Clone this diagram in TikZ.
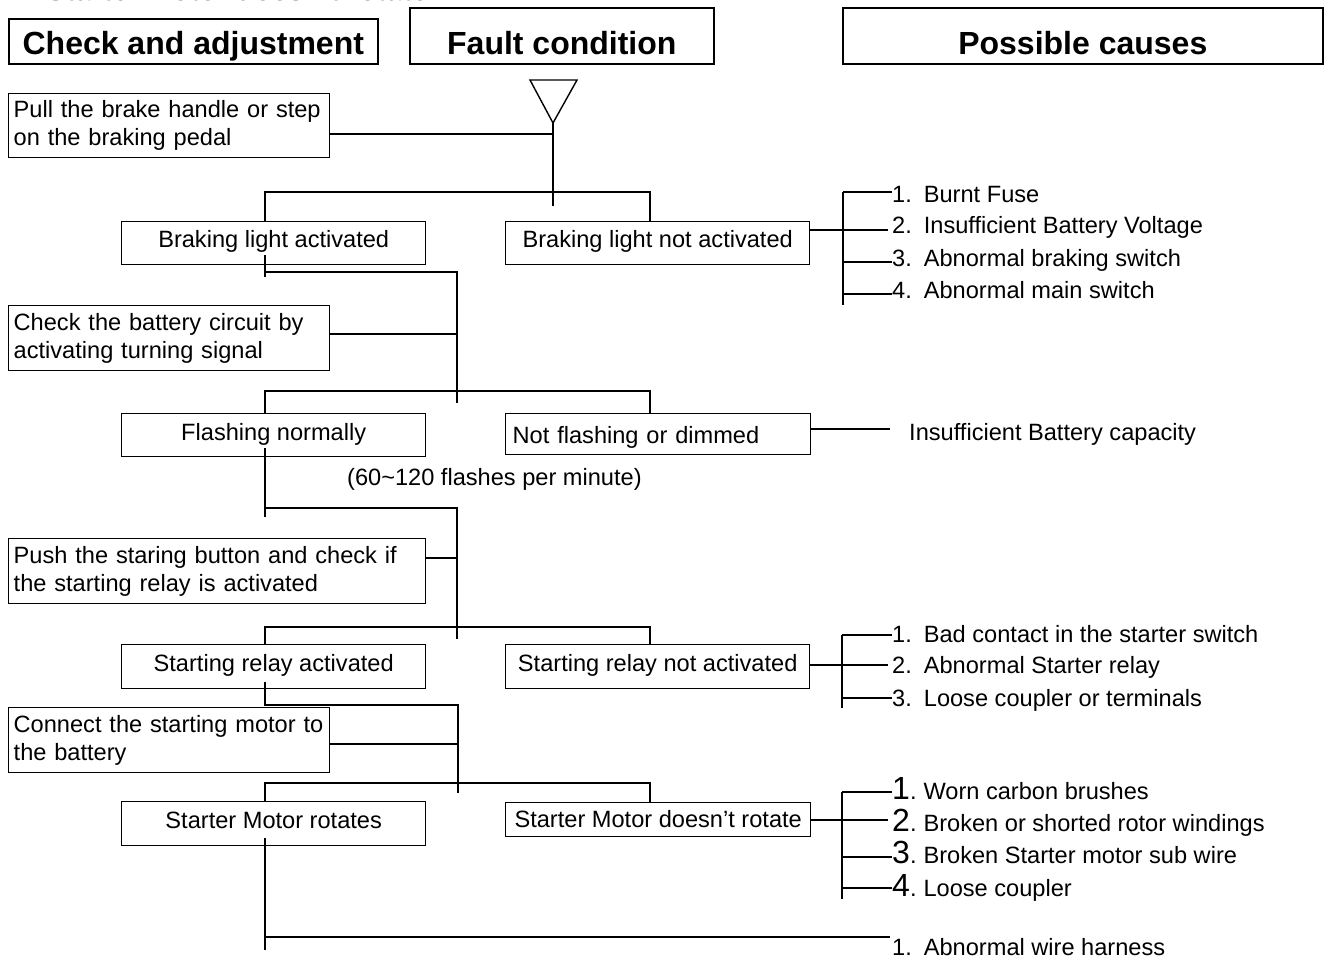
\documentclass[tikz,border=0pt]{standalone}
\usepackage{fontspec}
\setmainfont{Liberation Sans}
\newcommand\myBody{\fontsize{23.6}{28}\selectfont}
\newcommand\myHdr{\fontsize{32}{36}\selectfont\bfseries}
\newcommand\myBig{\fontsize{32}{32}\selectfont}
\tikzset{
  hdr/.style={draw, line width=1.6pt, inner sep=0pt, anchor=north west, font=\myHdr},
  stepbox/.style={draw, line width=1.4pt, inner xsep=5pt, inner ysep=0pt, anchor=north west, align=left, font=\myBody},
  resbox/.style={draw, line width=1.4pt, inner sep=0pt, anchor=north west, font=\myBody},
  item/.style={anchor=base west, inner sep=0pt, font=\myBody},
  conn/.style={line width=1.8pt},
}
\begin{document}
\begin{tikzpicture}[x=1pt,y=-1pt]
\useasboundingbox (0,0) rectangle (1324,961);

% cut-off title
\node[anchor=base west, inner sep=0pt, font=\fontsize{29}{32}\selectfont\bfseries] (title) at (46,1) {Starter Motor doesn’t rotate};

% headers
\node[hdr, minimum width=369pt, minimum height=45pt, text height=35.5pt, text depth=9.5pt] (H1) at (8,18) {Check and adjustment};
\node[hdr, minimum width=304pt, minimum height=56pt, text height=46.5pt, text depth=9.5pt] (H2) at (409,7) {Fault condition};
\node[hdr, minimum width=480pt, minimum height=56pt, text height=46.5pt, text depth=9.5pt] (H3) at (842,7) {Possible causes};

% step boxes
\node[stepbox, text width=311pt, minimum height=64pt] (B1) at (8,93) {Pull the brake handle or step\\on the braking pedal};
\node[stepbox, text width=311pt, minimum height=65pt] (B2) at (8,305) {Check the battery circuit by\\activating turning signal};
\node[stepbox, text width=407pt, minimum height=65pt] (B3) at (8,538) {Push the staring button and check if\\the starting relay is activated};
\node[stepbox, text width=311pt, minimum height=65pt] (B4) at (8,707) {Connect the starting motor to\\the battery};

% result boxes
\node[resbox, minimum width=304pt, text height=25.5pt, text depth=17.5pt] (R1) at (121,221) {Braking light activated};
\node[resbox, minimum width=304pt, text height=25.5pt, text depth=17.5pt] (N1) at (505,221) {Braking light not activated};
\node[resbox, minimum width=304pt, text height=26.5pt, text depth=16.5pt] (R2) at (121,413) {Flashing normally};
\node[resbox, inner xsep=7pt, text width=291pt, align=left, text height=30pt, text depth=11pt] (N2) at (505,413) {Not flashing or dimmed};
\node[resbox, minimum width=304pt, text height=26.5pt, text depth=17.5pt] (R3) at (121,644) {Starting relay activated};
\node[resbox, minimum width=304pt, text height=26.5pt, text depth=17.5pt] (N3) at (505,644) {Starting relay not activated};
\node[resbox, minimum width=304pt, text height=26.5pt, text depth=17.5pt] (R4) at (121,801) {Starter Motor rotates};
\node[resbox, minimum width=305pt, text height=24.5pt, text depth=9.5pt] (N4) at (505,802) {Starter Motor doesn’t rotate};

\node[item] (note) at (347,485) {(60\textasciitilde120 flashes per minute)};

% triangle
\coordinate (tl) at (530,80);
\coordinate (tr) at (577,80);
\coordinate (apex) at (553,123);
\draw[line width=1.4pt] (tl) -- (tr) -- (apex) -- cycle;

% column coordinates
\coordinate (colL) at (265,0);
\coordinate (colR) at (650,0);

% stage 1
\coordinate (j1) at (553,134);
\coordinate (s1) at (553,192);
\coordinate (e1) at (553,206);
\draw[conn] (apex) -- (e1);
\draw[conn] (B1.east |- j1) -- (j1);
\draw[conn] (colL |- R1.north) -- (colL |- s1) -- (colR |- s1) -- (colR |- N1.north);

% stage 2
\coordinate (a2) at (265,255);
\coordinate (b2) at (265,277);
\coordinate (t2) at (457,272);
\coordinate (j2) at (457,334);
\coordinate (s2) at (457,391);
\coordinate (e2) at (457,403);
\draw[conn] (a2) -- (b2);
\draw[conn] (colL |- t2) -- (t2) -- (e2);
\draw[conn] (B2.east |- j2) -- (j2);
\draw[conn] (colL |- R2.north) -- (colL |- s2) -- (colR |- s2) -- (colR |- N2.north);

% stage 3
\coordinate (a3) at (265,448);
\coordinate (b3) at (265,517);
\coordinate (t3) at (457,508);
\coordinate (j3) at (457,558);
\coordinate (s3) at (457,627);
\coordinate (e3) at (457,639);
\draw[conn] (a3) -- (b3);
\draw[conn] (colL |- t3) -- (t3) -- (e3);
\draw[conn] (B3.east |- j3) -- (j3);
\draw[conn] (colL |- R3.north) -- (colL |- s3) -- (colR |- s3) -- (colR |- N3.north);

% stage 4
\coordinate (a4) at (265,682);
\coordinate (t4) at (458,705);
\coordinate (j4) at (458,744);
\coordinate (s4) at (458,783);
\coordinate (e4) at (458,793);
\draw[conn] (a4) -- (colL |- t4) -- (t4) -- (e4);
\draw[conn] (B4.east |- j4) -- (j4);
\draw[conn] (colL |- R4.north) -- (colL |- s4) -- (colR |- s4) -- (colR |- N4.north);

% stage 5
\coordinate (a5) at (265,838);
\coordinate (b5) at (265,950);
\coordinate (t5) at (890,937);
\draw[conn] (a5) -- (b5);
\draw[conn] (colL |- t5) -- (t5);
\node[item] (c51) at (892,955) {1.\hspace{12pt}Abnormal wire harness};

% causes group 1
\coordinate (g1t) at (843,192);
\coordinate (g1b) at (843,305);
\coordinate (g1e) at (888,230);
\draw[conn] (g1t) -- (g1b);
\draw[conn] (N1.east |- g1e) -- (g1e);
\node[item] (c11) at (892,202) {1.\hspace{12pt}Burnt Fuse};
\node[item] (c12) at (892,233) {2.\hspace{12pt}Insufficient Battery Voltage};
\node[item] (c13) at (892,266) {3.\hspace{12pt}Abnormal braking switch};
\node[item] (c14) at (892,298) {4.\hspace{12pt}Abnormal main switch};
\draw[conn] (g1t) -- (c11.west |- g1t);
\draw[conn] (843,262) -- (c13.west |- 0,262);
\draw[conn] (843,294) -- (c14.west |- 0,294);

% causes group 2
\coordinate (g2e) at (890,429);
\draw[conn] (N2.east |- g2e) -- (g2e);
\node[item] (c21) at (909,440.5) {Insufficient Battery capacity};

% causes group 3
\coordinate (g3t) at (842,635);
\coordinate (g3b) at (842,708);
\coordinate (g3e) at (888,665);
\draw[conn] (g3t) -- (g3b);
\draw[conn] (N3.east |- g3e) -- (g3e);
\node[item] (c31) at (892,642) {1.\hspace{12pt}Bad contact in the starter switch};
\node[item] (c32) at (892,673) {2.\hspace{12pt}Abnormal Starter relay};
\node[item] (c33) at (892,706) {3.\hspace{12pt}Loose coupler or terminals};
\draw[conn] (g3t) -- (c31.west |- g3t);
\draw[conn] (842,698) -- (c33.west |- 0,698);

% causes group 4
\coordinate (g4t) at (842,792);
\coordinate (g4b) at (842,899);
\coordinate (g4e) at (888,820);
\draw[conn] (g4t) -- (g4b);
\draw[conn] (N4.east |- g4e) -- (g4e);
\node[item] (c41) at (892,799) {{\myBig 1}.\hspace{7pt}Worn carbon brushes};
\node[item] (c42) at (892,831) {{\myBig 2}.\hspace{7pt}Broken or shorted rotor windings};
\node[item] (c43) at (892,863) {{\myBig 3}.\hspace{7pt}Broken Starter motor sub wire};
\node[item] (c44) at (892,896) {{\myBig 4}.\hspace{7pt}Loose coupler};
\draw[conn] (g4t) -- (c41.west |- g4t);
\draw[conn] (842,857) -- (c43.west |- 0,857);
\draw[conn] (842,888) -- (c44.west |- 0,888);
\end{tikzpicture}
\end{document}
